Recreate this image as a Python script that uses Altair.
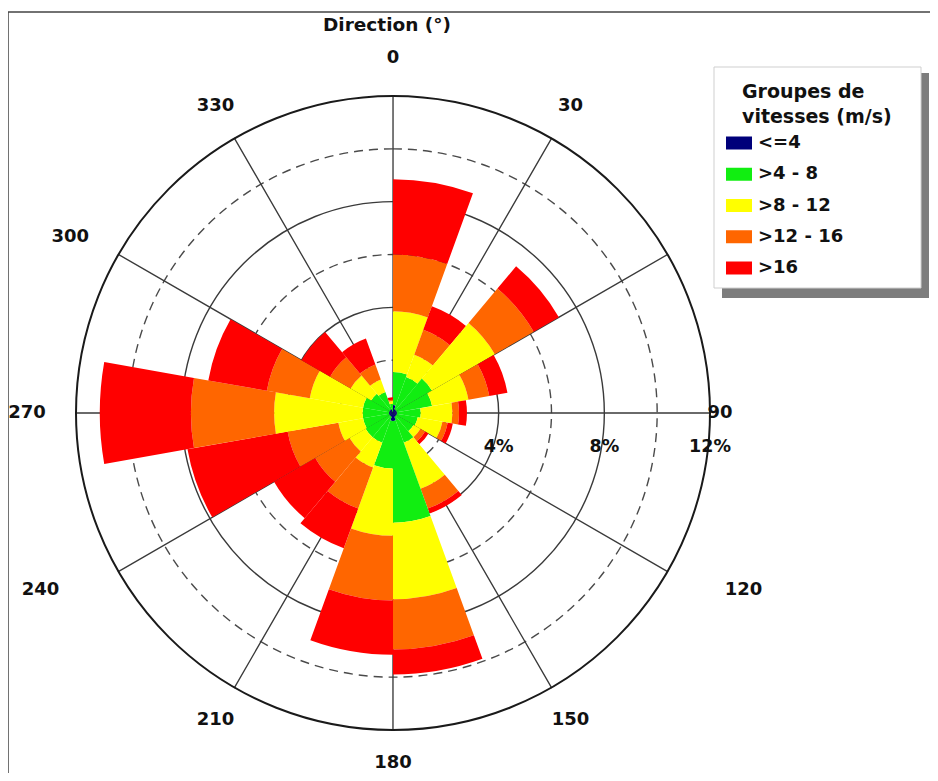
import math
import altair as alt
import pandas as pd

# ---------------- data ----------------
directions = [0, 20, 40, 60, 80, 100, 120, 140, 160, 180, 200, 220, 240, 260, 280, 300, 320, 340]
sector_width = 20
bands = ["<=4", ">4 - 8", ">8 - 12", ">12 - 16", ">16"]
band_colors = ["#00007a", "#11ee11", "#ffff00", "#ff6600", "#ff0000"]

# frequency (%) of each speed group, per direction sector
freq_le4 = [0.30, 0.15, 0.15, 0.15, 0.15, 0.15, 0.15, 0.15, 0.30, 0.30, 0.15, 0.15, 0.15, 0.15, 0.15, 0.15, 0.15, 0.05]
freq_4_8 = [1.25, 1.30, 1.55, 1.35, 0.90, 0.80, 0.75, 1.05, 3.85, 1.80, 1.05, 1.05, 1.00, 1.00, 1.00, 0.80, 0.70, 0.30]
freq_8_12 = [2.30, 0.90, 2.75, 1.40, 1.20, 0.95, 0.30, 1.85, 2.90, 2.55, 1.00, 0.70, 0.95, 3.35, 2.05, 0.90, 0.50, 0.10]
freq_12_16 = [2.15, 1.00, 1.70, 0.80, 0.25, 0.20, 0.20, 0.80, 1.90, 2.45, 1.65, 1.50, 1.95, 3.15, 1.65, 0.90, 0.60, 0.05]
freq_gt16 = [2.85, 0.95, 1.10, 0.70, 0.30, 0.20, 0.15, 0.20, 0.95, 2.05, 1.60, 1.80, 3.85, 3.45, 2.25, 1.25, 1.05, 0.10]

spoke_angles = [0, 30, 60, 90, 120, 150, 180, 210, 240, 270, 300, 330]
spoke_labels = ["0", "30", "60", "90", "120", "150", "180", "210", "240", "270", "300", "330"]
rings_dashed = [2, 6, 10]
rings_solid = [4, 8]
ring_outer = [12]
ring_label_values = [4, 8, 12]
ring_label_text = ["4%", "8%", "12%"]
chart_title = "Direction (°)"
legend_title = ["Groupes de", "vitesses (m/s)"]

# ---------------- tables ----------------
series = [freq_le4, freq_4_8, freq_8_12, freq_12_16, freq_gt16]
rows = []
for i, d in enumerate(directions):
    cum = 0.0
    for b, s in zip(bands, series):
        rows.append({"dir": d, "dir_end": d + sector_width, "band": b,
                     "r0": cum, "r1": cum + s[i], "freq": s[i]})
        cum += s[i]
bars_df = pd.DataFrame(rows)

CX, CY = 385, 405
FONT = "DejaVu Sans"
INK = "#111111"
theta_scale = alt.Scale(domain=[0, 360], range=[0, 2 * math.pi])
radius_scale = alt.Scale(type="linear", domain=[0, 12], range=[0, 317])
color_scale = alt.Scale(domain=bands, range=band_colors)


def ring_layer(values, width, color, dash=None):
    df = pd.DataFrame({"r": values, "a0": [0] * len(values), "a1": [360] * len(values)})
    kw = dict(fillOpacity=0, stroke=color, strokeWidth=width)
    if dash:
        kw["strokeDash"] = dash
    return alt.Chart(df).mark_arc(**kw).encode(
        x=alt.value(CX), y=alt.value(CY),
        theta=alt.Theta("a0:Q", scale=theta_scale, stack=False),
        theta2="a1:Q",
        radius=alt.Radius("r:Q", scale=radius_scale, stack=False),
    )


dashed = ring_layer(rings_dashed, 1.4, "#4a4a4a", [9, 6])
solid = ring_layer(rings_solid, 1.4, "#3a3a3a")
outer = ring_layer(ring_outer, 2.0, "#1a1a1a")

spoke_df = pd.DataFrame({"a": spoke_angles, "label": spoke_labels})
spokes = alt.Chart(spoke_df).transform_calculate(
    a1="datum.a + 0.01", rmax="12"
).mark_arc(fillOpacity=0, stroke="#3a3a3a", strokeWidth=1.3).encode(
    x=alt.value(CX), y=alt.value(CY),
    theta=alt.Theta("a:Q", scale=theta_scale, stack=False),
    theta2="a1:Q",
    radius=alt.Radius("rmax:Q", scale=radius_scale, stack=False),
)

bars = alt.Chart(bars_df).mark_arc(stroke="transparent", strokeWidth=0).encode(
    x=alt.value(CX), y=alt.value(CY),
    theta=alt.Theta("dir:Q", scale=theta_scale, stack=False),
    theta2="dir_end:Q",
    radius=alt.Radius("r1:Q", scale=radius_scale, stack=False),
    radius2="r0:Q",
    color=alt.Color("band:N", scale=color_scale, legend=None),
)


def dir_label_layer(angles, radius, dx=0):
    base = alt.Chart(spoke_df).transform_filter(
        alt.FieldOneOfPredicate(field="a", oneOf=angles)
    )
    return base.mark_text(
        radius=radius, dx=dx, font=FONT, fontSize=18, fontWeight="bold", color=INK,
        align="center", baseline="middle"
    ).encode(
        x=alt.value(CX), y=alt.value(CY),
        theta=alt.Theta("a:Q", scale=theta_scale, stack=False),
        text="label:N",
    )


dir_labels = [
    dir_label_layer([0, 30, 150, 210, 330], 355),
    dir_label_layer([180], 350),
    dir_label_layer([60], 353, 28),
    dir_label_layer([120], 354, 44),
    dir_label_layer([240], 354, -46),
    dir_label_layer([300], 353, -17),
    dir_label_layer([90], 355, -28),
    dir_label_layer([270], 355, -11),
]

ring_df = pd.DataFrame({"r": ring_label_values, "t": ring_label_text, "a": [90] * 3})
ring_labels = alt.Chart(ring_df).mark_text(
    font=FONT, fontSize=17.5, fontWeight="bold", color=INK,
    align="center", baseline="middle", dy=34
).encode(
    x=alt.value(CX), y=alt.value(CY),
    theta=alt.Theta("a:Q", scale=theta_scale, stack=False),
    radius=alt.Radius("r:Q", scale=radius_scale, stack=False),
    text="t:N",
)

title = alt.Chart(pd.DataFrame({"t": [chart_title]})).mark_text(
    font=FONT, fontSize=18.5, fontWeight="bold", color=INK, align="center", baseline="middle"
).encode(x=alt.value(379), y=alt.value(17), text="t:N")

# ---------------- legend ----------------
one = pd.DataFrame({"k": [0]})
shadow = alt.Chart(one).mark_rect(color="#7d7d7d").encode(
    x=alt.value(714), x2=alt.value(921), y=alt.value(65), y2=alt.value(290))
box = alt.Chart(one).mark_rect(fill="white", stroke="#cfcfcf", strokeWidth=1).encode(
    x=alt.value(706), x2=alt.value(913), y=alt.value(59), y2=alt.value(280))
leg_t1 = alt.Chart(pd.DataFrame({"t": [legend_title[0]]})).mark_text(
    font=FONT, fontSize=19, fontWeight="bold", color=INK, align="left", baseline="middle"
).encode(x=alt.value(734), y=alt.value(84), text="t:N")
leg_t2 = alt.Chart(pd.DataFrame({"t": [legend_title[1]]})).mark_text(
    font=FONT, fontSize=19, fontWeight="bold", color=INK, align="left", baseline="middle"
).encode(x=alt.value(734), y=alt.value(109), text="t:N")

leg_df = pd.DataFrame({"band": bands})
leg_y = alt.Y("band:N", scale=alt.Scale(type="point", domain=bands, range=[135, 260], padding=0), axis=None)
swatches = alt.Chart(leg_df).mark_point(
    shape="M-1,-0.5L1,-0.5L1,0.5L-1,0.5Z", size=676, filled=True, opacity=1, strokeWidth=0
).encode(
    x=alt.value(731), y=leg_y,
    color=alt.Color("band:N", scale=color_scale, legend=None),
)
leg_labels = alt.Chart(leg_df).mark_text(
    font=FONT, fontSize=18, fontWeight="bold", color=INK, align="left", baseline="middle"
).encode(x=alt.value(750), y=leg_y, text="band:N")

border = alt.Chart(one).mark_rect(fillOpacity=0, stroke="#444444", strokeWidth=1.5).encode(
    x=alt.value(0), x2=alt.value(960), y=alt.value(4), y2=alt.value(800))

chart = alt.layer(
    dashed, solid, spokes, outer, bars, *dir_labels, ring_labels, title,
    shadow, box, leg_t1, leg_t2, swatches, leg_labels, border
).properties(
    width=922, height=765, autosize=alt.AutoSizeParams(type="none"), padding=0,
    background="white"
).configure_view(strokeWidth=0)

chart.save("out.html", embed_options={"renderer": "svg", "actions": False})
